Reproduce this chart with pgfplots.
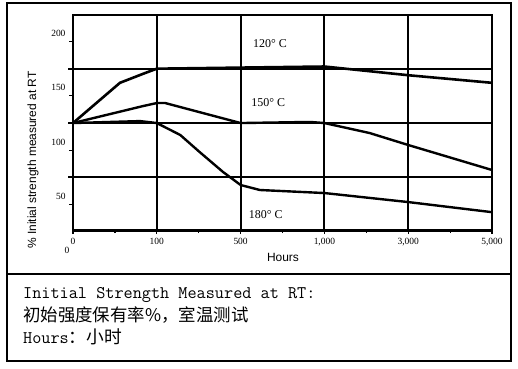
\documentclass[border=0pt]{standalone}
\usepackage{pgfplots}
\pgfplotsset{compat=1.18}
\usepackage{fontspec}
\setmainfont{Liberation Serif}
\setsansfont{Liberation Sans}
\newfontfamily\cjk{Noto Sans CJK SC}
\begin{document}
\begin{tikzpicture}[x=1bp,y=1bp]
\path (0,0) rectangle (518,368);
\draw[line width=1.8bp] (7,7) rectangle (511,365);
\draw[line width=1.8bp] (7,94) -- (511,94);
\begin{axis}[
 at={(73bp,138bp)}, anchor=south west, scale only axis,
 width=419bp, height=215bp,
 xmin=0, xmax=5, ymin=26.6, ymax=224.4,
 axis line style={line width=2bp},
 xtick={0,...,5}, xticklabels={0,100,500,{1,000},{3,000},{5,000}},
 minor x tick num=1,
 ytick={50,100,150,200},
 tick pos=left,
 tick align=outside, major tick length=4bp, minor tick length=3bp,
 tick style={black, line width=1.2bp},
 xmajorgrids, major grid style={black, line width=2bp},
 extra y ticks={75,125,175}, extra y tick labels={},
 extra y tick style={ymajorgrids, major tick length=5bp, tick style={line width=2bp}},
 ticklabel style={font=\fontsize{9.5}{10}\selectfont, text=black},
 xticklabel style={yshift=-1bp},
 yticklabel style={yshift=8bp},
 /pgf/number format/assume math mode=true,
 clip=false,
]
\addplot[line width=2.6bp, line join=round] coordinates {(0,125) (0.56,162) (0.84,170.4) (1,175) (2,176) (3,177) (4,169) (5,162)};
\addplot[line width=2.4bp, line join=round] coordinates {(0,125) (0.835,140.6) (1,143.4) (1.1,143.4) (2,125) (2.83,126) (3,125) (3.54,115.8) (4,104.8) (5,81.8)};
\addplot[line width=2.4bp, line join=round] coordinates {(0,125) (0.8,126.8) (1,125) (1.28,114) (1.51,98.4) (1.79,80) (2,68) (2.23,63.4) (3,60.6) (4,52.3) (5,43)};
\draw[line width=3bp] (rel axis cs:0,0) -- (rel axis cs:1,0);
\draw[line width=2.5bp] (rel axis cs:0,1) -- (rel axis cs:1,1);
\node[font=\fontsize{12}{12}\selectfont] at (axis cs:2.35,197.8) {120° C};
\node[font=\fontsize{12}{12}\selectfont] at (axis cs:2.33,143.4) {150° C};
\node[font=\fontsize{12}{12}\selectfont] at (axis cs:2.3,40.4) {180° C};
\end{axis}
\node[rotate=90, font=\sffamily\fontsize{12}{12}\selectfont] at (33,208) {\% Initial strength measured at RT};
\node[font=\sffamily\fontsize{12}{12}\selectfont] at (283,111) {Hours};
\node[font=\fontsize{9.5}{10}\selectfont] at (67,118) {0};
\node[anchor=base west, inner sep=0pt, font=\ttfamily\fontsize{17.8}{18}\selectfont] at (23,70) {Initial Strength Measured at RT:};
\node[anchor=base west, inner sep=0pt, font=\cjk\fontsize{17.5}{17.5}\selectfont] at (23,47) {初始强度保有率\%，室温测试};
\node[anchor=base west, inner sep=0pt, font=\fontsize{17.8}{18}\selectfont] at (23,25) {\ttfamily Hours{\cjk ：小时}};
\end{tikzpicture}
\end{document}
